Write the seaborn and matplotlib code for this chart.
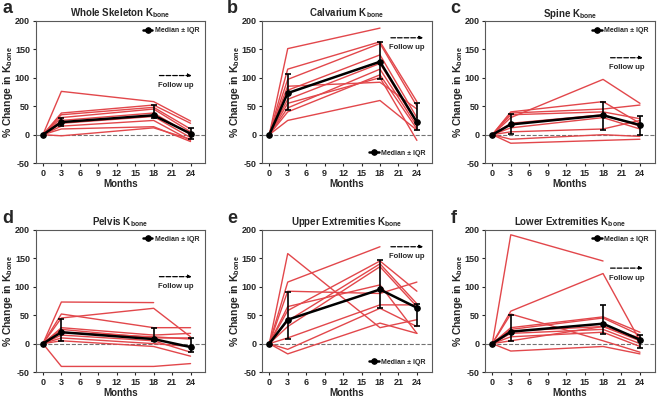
import numpy as np
import pandas as pd
import matplotlib
matplotlib.use('Agg')
import matplotlib.pyplot as plt
import seaborn as sns

# ==========================================
# data (% change in Kbone)
# ==========================================
months = [0, 3, 18, 24]

whole_skeleton = [[0, 76, 58, 24], [0, 38, 52, 20], [0, 35, 48, 10], [0, 30, 45, 5],
                  [0, 25, 38, 0], [0, 20, 32, -5], [0, 15, 25, -10], [0, 10, 14, -12],
                  [0, -2, 12, -8]]
calvarium = [[0, 151, 187, np.nan], [0, 115, 163, 58], [0, 97, 160, 50], [0, 85, 92, 45],
             [0, 78, 140, 30], [0, 62, 125, 20], [0, 47, 115, 15], [0, 40, 105, 10],
             [0, 25, 60, 8], [0, 55, 100, -10]]
spine = [[0, 30, 97, 55], [0, 40, 58, 20], [0, 38, 45, 52], [0, 35, 40, 28],
         [0, 20, 35, 15], [0, 12, 30, 10], [0, 5, 10, 25], [0, -8, 0, -3],
         [0, -15, -10, -8]]
pelvis = [[0, 73, 72, np.nan], [0, 45, 62, 12], [0, 52, 28, 28], [0, 28, 15, 18],
          [0, 25, 10, 10], [0, 15, 5, -15], [0, 10, 0, -5], [0, 5, -5, -22],
          [0, -40, -40, -35], [0, 20, 12, 8]]
upper_ext = [[0, 158, 28, 42], [0, 108, 170, np.nan], [0, 92, 88, 108], [0, 65, 103, 18],
             [0, 58, 145, 92], [0, 40, 140, 70], [0, 30, 135, 65], [0, 10, 68, 68],
             [0, -10, 62, 30], [0, -18, 36, 18]]
lower_ext = [[0, 191, 145, np.nan], [0, 57, 123, 5], [0, 52, 5, -15], [0, 28, 47, 20],
             [0, 25, 45, 15], [0, 22, 30, 10], [0, 18, 25, 0], [0, 12, 20, -5],
             [0, 5, 30, 5], [0, -13, -5, -18]]

# median with IQR (low, high)
med_a = [0, 22, 34, 2];   lo_a = [0, 15, 30, -8];  hi_a = [0, 30, 52, 12]
med_b = [0, 73, 128, 22]; lo_b = [0, 43, 98, 8];   hi_b = [0, 107, 162, 55]
med_c = [0, 18, 34, 17];  lo_c = [0, 2, 8, 0];     hi_c = [0, 36, 58, 33]
med_d = [0, 20, 8, -6];   lo_d = [0, 5, 5, -15];   hi_d = [0, 44, 28, 10]
med_e = [0, 42, 95, 63];  lo_e = [0, 9, 62, 31];   hi_e = [0, 91, 146, 70]
med_f = [0, 21, 35, 7];   lo_f = [0, 4, 17, -7];   hi_f = [0, 50, 67, 15]

titles = ['Whole Skeleton', 'Calvarium', 'Spine', 'Pelvis',
          'Upper Extremities', 'Lower Extremities']
letters = ['a', 'b', 'c', 'd', 'e', 'f']

# ==========================================
# style
# ==========================================
sns.set_style("ticks")
plt.rcParams['font.family'] = ['Liberation Sans', 'DejaVu Sans']
plt.rcParams['font.weight'] = 'bold'
plt.rcParams['axes.unicode_minus'] = False
plt.rcParams['mathtext.fontset'] = 'custom'
plt.rcParams['mathtext.rm'] = 'Liberation Sans:bold'
plt.rcParams['mathtext.bf'] = 'Liberation Sans:bold'
plt.rcParams['mathtext.default'] = 'rm'

red = '#e2474b'

panels = [
    (whole_skeleton, med_a, lo_a, hi_a, 'upper right', (0.73, 0.92, 0.615)),
    (calvarium, med_b, lo_b, hi_b, 'lower right', (0.76, 0.95, 0.88)),
    (spine, med_c, lo_c, hi_c, 'upper right', (0.74, 0.93, 0.74)),
    (pelvis, med_d, lo_d, hi_d, 'upper right', (0.73, 0.92, 0.67)),
    (upper_ext, med_e, lo_e, hi_e, 'lower right', (0.76, 0.95, 0.88)),
    (lower_ext, med_f, lo_f, hi_f, 'upper right', (0.74, 0.93, 0.73)),
]

# axes positions in figure fraction
lefts = [0.054, 0.398, 0.737]
bottoms = [0.590, 0.065]
width, height = 0.258, 0.358
# panel letter positions (figure fraction)
letter_x = [0.004, 0.345, 0.685]
letter_y = [0.978, 0.452]

fig = plt.figure(figsize=(6.58, 3.98), dpi=100)

for i, (subjects, med, lo, hi, leg_loc, arrow) in enumerate(panels):
    ax = fig.add_axes([lefts[i % 3], bottoms[i // 3], width, height])

    rows = []
    for s, vals in enumerate(subjects):
        for m, v in zip(months, vals):
            rows.append({'Months': m, 'value': v, 'subject': s})
    df = pd.DataFrame(rows).dropna()

    ax.axhline(0, color='0.45', ls='--', lw=0.8, zorder=1)

    sns.lineplot(data=df, x='Months', y='value', units='subject', estimator=None,
                 color=red, lw=1.0, legend=False, ax=ax, zorder=2)

    med_df = pd.DataFrame({'Months': months, 'median': med})
    sns.lineplot(data=med_df, x='Months', y='median', color='black', lw=1.8,
                 marker='o', markersize=4, markeredgecolor='black',
                 label='Median \u00b1 IQR', ax=ax, zorder=4)
    yerr = [np.array(med) - np.array(lo), np.array(hi) - np.array(med)]
    ax.errorbar(months[1:], med[1:], yerr=[yerr[0][1:], yerr[1][1:]], fmt='none',
                ecolor='black', elinewidth=1.2, capsize=2.5, capthick=1.2, zorder=4)

    ax.legend(loc=leg_loc, frameon=False, fontsize=5, handlelength=1.4,
              handletextpad=0.3, borderaxespad=0.5)

    # follow up arrow
    x0, x1, ya = arrow
    ax.annotate('', xy=(x1, ya), xytext=(x0, ya), xycoords='axes fraction',
                arrowprops=dict(arrowstyle='-|>', ls='--', lw=0.9, color='black',
                                mutation_scale=5, shrinkA=0, shrinkB=0))
    ax.text((x0 + x1) / 2, ya - 0.07, 'Follow up', transform=ax.transAxes,
            ha='center', va='center', fontsize=5.5)

    ax.set_xlim(-1.2, 26.4)
    ax.set_ylim(-50, 200)
    ax.set_xticks(range(0, 25, 3))
    ax.set_yticks(range(-50, 201, 50))
    ax.tick_params(labelsize=6.5, length=2.5, width=0.8, pad=1.5)
    for sp in ax.spines.values():
        sp.set_linewidth(0.8)
        sp.set_color('0.35')

    ax.set_xlabel('Months', fontsize=7, fontweight='bold', labelpad=1)
    ax.set_ylabel('% Change in K$_{bone}$', fontsize=7.5, fontweight='bold')
    ax.yaxis.set_label_coords(-0.12, 0.5)
    ax.set_title(titles[i] + ' K$_{bone}$', fontsize=7, fontweight='bold', pad=3)
    fig.text(letter_x[i % 3], letter_y[i // 3], letters[i], fontsize=13,
             fontweight='bold', ha='left', va='center')

fig.savefig('out.png', dpi=100)
